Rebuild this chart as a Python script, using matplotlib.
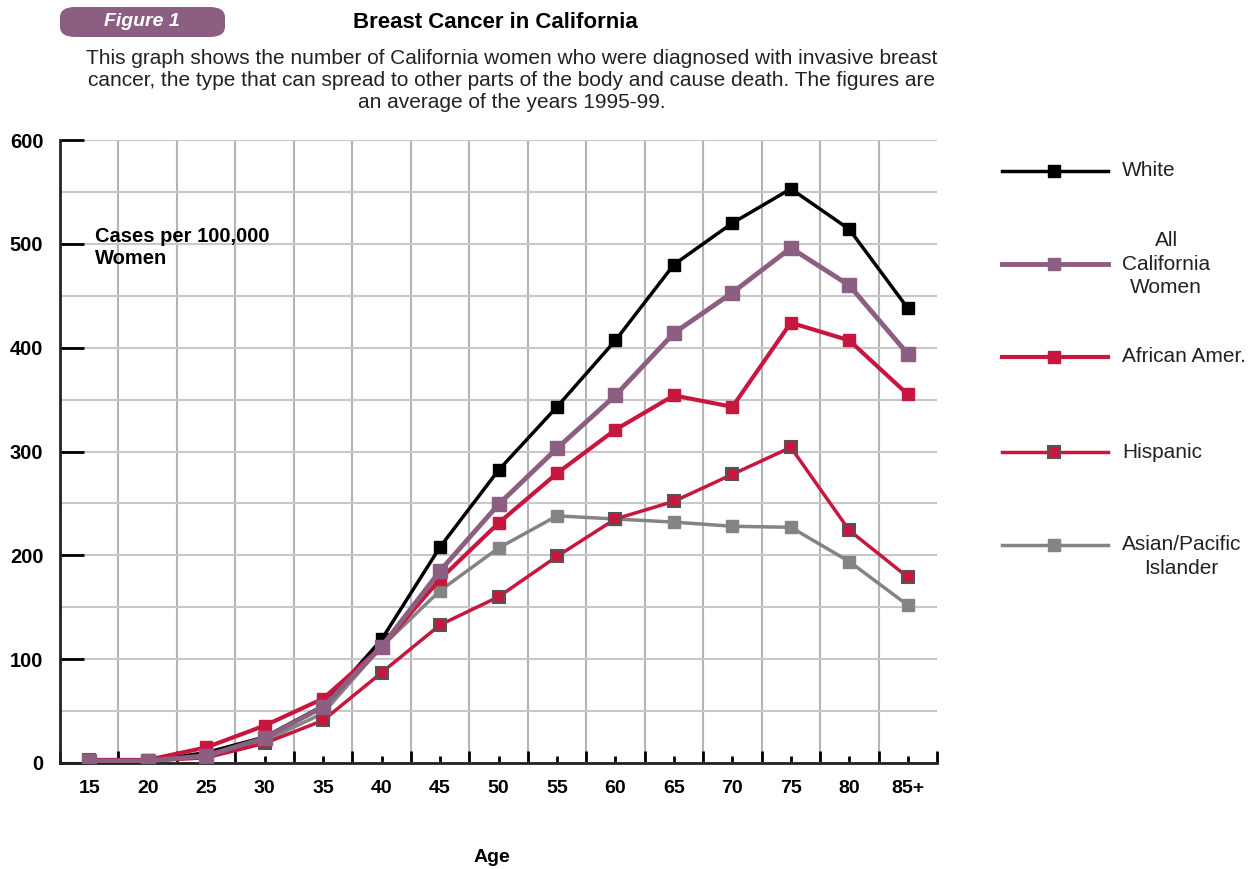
import matplotlib.pyplot as plt
from matplotlib.lines import Line2D
from matplotlib.patches import FancyBboxPatch
from matplotlib.ticker import MultipleLocator

plt.rcParams['font.family'] = ['Liberation Sans', 'DejaVu Sans']

ages = ['15', '20', '25', '30', '35', '40', '45', '50', '55', '60', '65', '70', '75', '80', '85+']
white = [3, 2, 10, 25, 55, 119, 208, 282, 343, 407, 480, 520, 553, 514, 438]
all_ca = [2, 2, 7, 24, 54, 112, 185, 249, 303, 354, 414, 453, 496, 460, 394]
african = [3, 3, 15, 36, 62, 112, 177, 231, 279, 321, 354, 343, 424, 407, 355]
hispanic = [3, 2, 5, 19, 41, 87, 133, 160, 199, 235, 252, 278, 304, 224, 179]
asian = [2, 2, 6, 21, 48, 112, 166, 207, 238, 235, 232, 228, 227, 194, 152]

purple = '#8c5f82'
crimson = '#c8173f'
grey = '#848484'

fig = plt.figure(figsize=(12.58, 8.69), dpi=100)
ax = fig.add_axes([60 / 1258, 1 - 763 / 869, 877 / 1258, 623 / 869])

x = range(len(ages))
ax.plot(x, white, color='black', lw=2.5, marker='s', ms=8, zorder=3)
ax.plot(x, asian, color=grey, lw=2.5, marker='s', ms=8.5, zorder=3)
ax.plot(x, hispanic, color=crimson, lw=2.5, marker='s', ms=9,
        mfc=crimson, mec='#555555', mew=1.5, zorder=3)
ax.plot(x, african, color=crimson, lw=3, marker='s', ms=9, zorder=3)
ax.plot(x, all_ca, color=purple, lw=3.5, marker='s', ms=9.5, zorder=3)

ax.set_xlim(-0.5, len(ages) - 0.5)
ax.set_ylim(0, 600)
ax.set_xticks(list(x))
ax.set_xticklabels(ages, fontsize=14, fontweight='bold')
ax.xaxis.set_minor_locator(MultipleLocator(1, offset=0.5))
ax.yaxis.set_major_locator(MultipleLocator(100))
ax.yaxis.set_minor_locator(MultipleLocator(50))
for lab in ax.get_yticklabels():
    lab.set_fontsize(14.5)
    lab.set_fontweight('bold')

ax.tick_params(axis='x', which='major', direction='in', length=5, width=2, pad=12)
ax.tick_params(axis='x', which='minor', direction='in', length=9, width=2)
ax.tick_params(axis='y', which='major', direction='in', length=17, width=2, pad=12)
ax.tick_params(axis='y', which='minor', length=0)

# vertical grid between the age groups, none on the right edge
for i in range(len(ages) - 1):
    ax.axvline(i + 0.5, color='#b4b4b4', lw=1.5, zorder=0)
ax.grid(which='both', axis='y', color='#c8c8c8', lw=1.5)
ax.set_axisbelow(True)
for s in ['top', 'right']:
    ax.spines[s].set_visible(False)
for s in ['left', 'bottom']:
    ax.spines[s].set_linewidth(2)
    ax.spines[s].set_color('#222222')

ax.text(0.1, 516, 'Cases per 100,000\nWomen', fontsize=14.5, fontweight='bold',
        va='top', linespacing=1.2)
fig.text(492 / 1258, 1 - 857 / 869, 'Age', fontsize=14, fontweight='bold',
         ha='center', va='center')

# header
fig.text(495 / 1258, 1 - 22 / 869, 'Breast Cancer in California', fontsize=16,
         fontweight='bold', ha='center', va='center')
fig.text(512 / 1258, 1 - 80 / 869,
         'This graph shows the number of California women who were diagnosed with invasive breast\n'
         'cancer, the type that can spread to other parts of the body and cause death. The figures are\n'
         'an average of the years 1995-99.',
         fontsize=15, ha='center', va='center', color='#222222', linespacing=1.2)
badge = FancyBboxPatch((60 / 1258, 1 - 37 / 869), 165 / 1258, 30 / 869,
                       boxstyle='round,pad=0,rounding_size=0.012',
                       transform=fig.transFigure, facecolor=purple, edgecolor='none')
fig.add_artist(badge)
fig.text(142 / 1258, 1 - 22 / 869, 'Figure 1', fontsize=14, fontweight='bold',
         style='italic', color='white', ha='center', va='center')

# legend
legend_items = [
    ('White', dict(color='black', lw=2.5, mfc='black', mec='black'), 171),
    ('All\nCalifornia\nWomen', dict(color=purple, lw=3.5, mfc=purple, mec=purple), 264),
    ('African Amer.', dict(color=crimson, lw=3, mfc=crimson, mec=crimson), 357),
    ('Hispanic', dict(color=crimson, lw=2.5, mfc=crimson, mec='#555555', mew=1.5), 452),
    ('Asian/Pacific\nIslander', dict(color=grey, lw=2.5, mfc=grey, mec=grey), 545),
]
for label, style, ypx in legend_items:
    yf = 1 - ypx / 869
    fig.add_artist(Line2D([1002 / 1258, 1108 / 1258], [yf, yf],
                          transform=fig.transFigure, **style))
    fig.add_artist(Line2D([1054 / 1258], [yf], transform=fig.transFigure,
                          marker='s', ms=8.5, **style))
    if label.startswith('Asian'):
        fig.text(1122 / 1258, yf + 10 / 869, label, fontsize=15, ha='left', va='top',
                 multialignment='center', linespacing=1.3, color='#222222')
    else:
        fig.text(1122 / 1258, yf, label, fontsize=15, ha='left', va='center',
                 multialignment='center', linespacing=1.3, color='#222222')

fig.savefig('out.png', dpi=100)
